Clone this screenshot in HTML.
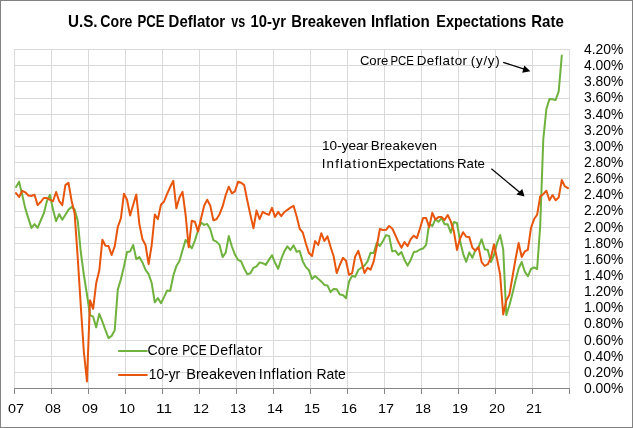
<!DOCTYPE html>
<html><head><meta charset="utf-8"><title>Chart</title>
<style>
html,body{margin:0;padding:0;background:#fff;}
body{width:633px;height:428px;overflow:hidden;font-family:"Liberation Sans",sans-serif;}
svg{display:block;will-change:transform;}
text{font-family:"Liberation Sans",sans-serif;fill:#000;}
</style></head><body>
<svg width="633" height="428" viewBox="0 0 633 428">
<rect x="0" y="0" width="633" height="428" fill="#fff"/>
<rect x="0.5" y="0.5" width="632" height="427" fill="none" stroke="#828282" stroke-width="1"/>
<g stroke="#D9D9D9" stroke-width="1" fill="none"><line x1="14.0" x2="570.0" y1="372.5" y2="372.5"/><line x1="14.0" x2="570.0" y1="356.5" y2="356.5"/><line x1="14.0" x2="570.0" y1="340.5" y2="340.5"/><line x1="14.0" x2="570.0" y1="324.5" y2="324.5"/><line x1="14.0" x2="570.0" y1="307.5" y2="307.5"/><line x1="14.0" x2="570.0" y1="291.5" y2="291.5"/><line x1="14.0" x2="570.0" y1="275.5" y2="275.5"/><line x1="14.0" x2="570.0" y1="259.5" y2="259.5"/><line x1="14.0" x2="570.0" y1="243.5" y2="243.5"/><line x1="14.0" x2="570.0" y1="227.5" y2="227.5"/><line x1="14.0" x2="570.0" y1="211.5" y2="211.5"/><line x1="14.0" x2="570.0" y1="194.5" y2="194.5"/><line x1="14.0" x2="570.0" y1="178.5" y2="178.5"/><line x1="14.0" x2="570.0" y1="162.5" y2="162.5"/><line x1="14.0" x2="570.0" y1="146.5" y2="146.5"/><line x1="14.0" x2="570.0" y1="130.5" y2="130.5"/><line x1="14.0" x2="570.0" y1="114.5" y2="114.5"/><line x1="14.0" x2="570.0" y1="98.5" y2="98.5"/><line x1="14.0" x2="570.0" y1="81.5" y2="81.5"/><line x1="14.0" x2="570.0" y1="65.5" y2="65.5"/><line x1="14.0" x2="570.0" y1="49.5" y2="49.5"/><line y1="49" y2="388.5" x1="14.50" x2="14.50"/><line y1="49" y2="388.5" x1="51.50" x2="51.50"/><line y1="49" y2="388.5" x1="88.50" x2="88.50"/><line y1="49" y2="388.5" x1="125.50" x2="125.50"/><line y1="49" y2="388.5" x1="162.50" x2="162.50"/><line y1="49" y2="388.5" x1="199.50" x2="199.50"/><line y1="49" y2="388.5" x1="236.50" x2="236.50"/><line y1="49" y2="388.5" x1="273.50" x2="273.50"/><line y1="49" y2="388.5" x1="310.50" x2="310.50"/><line y1="49" y2="388.5" x1="347.50" x2="347.50"/><line y1="49" y2="388.5" x1="384.50" x2="384.50"/><line y1="49" y2="388.5" x1="421.50" x2="421.50"/><line y1="49" y2="388.5" x1="458.50" x2="458.50"/><line y1="49" y2="388.5" x1="495.50" x2="495.50"/><line y1="49" y2="388.5" x1="532.50" x2="532.50"/><line y1="49" y2="388.5" x1="569.50" x2="569.50"/></g>
<g stroke="#868686" stroke-width="1" fill="none"><line x1="14.0" x2="570.0" y1="388.5" y2="388.5"/><line y1="388.0" y2="394.0" x1="14.50" x2="14.50"/><line y1="388.0" y2="394.0" x1="51.50" x2="51.50"/><line y1="388.0" y2="394.0" x1="88.50" x2="88.50"/><line y1="388.0" y2="394.0" x1="125.50" x2="125.50"/><line y1="388.0" y2="394.0" x1="162.50" x2="162.50"/><line y1="388.0" y2="394.0" x1="199.50" x2="199.50"/><line y1="388.0" y2="394.0" x1="236.50" x2="236.50"/><line y1="388.0" y2="394.0" x1="273.50" x2="273.50"/><line y1="388.0" y2="394.0" x1="310.50" x2="310.50"/><line y1="388.0" y2="394.0" x1="347.50" x2="347.50"/><line y1="388.0" y2="394.0" x1="384.50" x2="384.50"/><line y1="388.0" y2="394.0" x1="421.50" x2="421.50"/><line y1="388.0" y2="394.0" x1="458.50" x2="458.50"/><line y1="388.0" y2="394.0" x1="495.50" x2="495.50"/><line y1="388.0" y2="394.0" x1="532.50" x2="532.50"/><line y1="388.0" y2="394.0" x1="569.50" x2="569.50"/></g>
<text x="67.98" y="26.8" font-size="16.4" font-weight="bold" textLength="29.60" lengthAdjust="spacingAndGlyphs">U.S.</text><text x="100.34" y="26.8" font-size="16.4" font-weight="bold" textLength="32.14" lengthAdjust="spacingAndGlyphs">Core</text><text x="137.55" y="26.8" font-size="16.4" font-weight="bold" textLength="27.10" lengthAdjust="spacingAndGlyphs">PCE</text><text x="168.60" y="26.8" font-size="16.4" font-weight="bold" textLength="56.61" lengthAdjust="spacingAndGlyphs">Deflator</text><text x="231.36" y="26.8" font-size="16.4" font-weight="bold" textLength="13.97" lengthAdjust="spacingAndGlyphs">vs</text><text x="250.55" y="26.8" font-size="16.4" font-weight="bold" textLength="35.42" lengthAdjust="spacingAndGlyphs">10-yr</text><text x="291.23" y="26.8" font-size="16.4" font-weight="bold" textLength="75.01" lengthAdjust="spacingAndGlyphs">Breakeven</text><text x="370.89" y="26.8" font-size="16.4" font-weight="bold" textLength="58.93" lengthAdjust="spacingAndGlyphs">Inflation</text><text x="436.32" y="26.8" font-size="16.4" font-weight="bold" textLength="89.97" lengthAdjust="spacingAndGlyphs">Expectations</text><text x="531.15" y="26.8" font-size="16.4" font-weight="bold" textLength="32.62" lengthAdjust="spacingAndGlyphs">Rate</text>
<g font-size="14"><text x="584.0" y="392.60" textLength="39.4" lengthAdjust="spacingAndGlyphs">0.00%</text><text x="584.0" y="376.60" textLength="39.4" lengthAdjust="spacingAndGlyphs">0.20%</text><text x="584.0" y="360.60" textLength="39.4" lengthAdjust="spacingAndGlyphs">0.40%</text><text x="584.0" y="344.60" textLength="39.4" lengthAdjust="spacingAndGlyphs">0.60%</text><text x="584.0" y="327.60" textLength="39.4" lengthAdjust="spacingAndGlyphs">0.80%</text><text x="584.0" y="311.60" textLength="39.4" lengthAdjust="spacingAndGlyphs">1.00%</text><text x="584.0" y="295.60" textLength="39.4" lengthAdjust="spacingAndGlyphs">1.20%</text><text x="584.0" y="279.60" textLength="39.4" lengthAdjust="spacingAndGlyphs">1.40%</text><text x="584.0" y="263.60" textLength="39.4" lengthAdjust="spacingAndGlyphs">1.60%</text><text x="584.0" y="247.60" textLength="39.4" lengthAdjust="spacingAndGlyphs">1.80%</text><text x="584.0" y="231.60" textLength="39.4" lengthAdjust="spacingAndGlyphs">2.00%</text><text x="584.0" y="214.60" textLength="39.4" lengthAdjust="spacingAndGlyphs">2.20%</text><text x="584.0" y="198.60" textLength="39.4" lengthAdjust="spacingAndGlyphs">2.40%</text><text x="584.0" y="182.60" textLength="39.4" lengthAdjust="spacingAndGlyphs">2.60%</text><text x="584.0" y="166.60" textLength="39.4" lengthAdjust="spacingAndGlyphs">2.80%</text><text x="584.0" y="150.60" textLength="39.4" lengthAdjust="spacingAndGlyphs">3.00%</text><text x="584.0" y="134.60" textLength="39.4" lengthAdjust="spacingAndGlyphs">3.20%</text><text x="584.0" y="118.60" textLength="39.4" lengthAdjust="spacingAndGlyphs">3.40%</text><text x="584.0" y="101.60" textLength="39.4" lengthAdjust="spacingAndGlyphs">3.60%</text><text x="584.0" y="85.60" textLength="39.4" lengthAdjust="spacingAndGlyphs">3.80%</text><text x="584.0" y="69.60" textLength="39.4" lengthAdjust="spacingAndGlyphs">4.00%</text><text x="584.0" y="53.60" textLength="39.4" lengthAdjust="spacingAndGlyphs">4.20%</text></g>
<g font-size="13.6"><text x="16.00" y="413.4" text-anchor="middle" textLength="16.0" lengthAdjust="spacingAndGlyphs">07</text><text x="53.00" y="413.4" text-anchor="middle" textLength="16.0" lengthAdjust="spacingAndGlyphs">08</text><text x="90.00" y="413.4" text-anchor="middle" textLength="16.0" lengthAdjust="spacingAndGlyphs">09</text><text x="127.00" y="413.4" text-anchor="middle" textLength="16.0" lengthAdjust="spacingAndGlyphs">10</text><text x="164.00" y="413.4" text-anchor="middle" textLength="16.0" lengthAdjust="spacingAndGlyphs">11</text><text x="201.00" y="413.4" text-anchor="middle" textLength="16.0" lengthAdjust="spacingAndGlyphs">12</text><text x="238.00" y="413.4" text-anchor="middle" textLength="16.0" lengthAdjust="spacingAndGlyphs">13</text><text x="275.00" y="413.4" text-anchor="middle" textLength="16.0" lengthAdjust="spacingAndGlyphs">14</text><text x="312.00" y="413.4" text-anchor="middle" textLength="16.0" lengthAdjust="spacingAndGlyphs">15</text><text x="349.00" y="413.4" text-anchor="middle" textLength="16.0" lengthAdjust="spacingAndGlyphs">16</text><text x="386.00" y="413.4" text-anchor="middle" textLength="16.0" lengthAdjust="spacingAndGlyphs">17</text><text x="423.00" y="413.4" text-anchor="middle" textLength="16.0" lengthAdjust="spacingAndGlyphs">18</text><text x="460.00" y="413.4" text-anchor="middle" textLength="16.0" lengthAdjust="spacingAndGlyphs">19</text><text x="497.00" y="413.4" text-anchor="middle" textLength="16.0" lengthAdjust="spacingAndGlyphs">20</text><text x="534.00" y="413.4" text-anchor="middle" textLength="16.0" lengthAdjust="spacingAndGlyphs">21</text></g>
<polyline points="16.04,187.00 19.12,181.70 22.21,194.80 25.29,208.40 28.38,218.40 31.46,227.90 34.54,224.10 37.62,227.90 40.71,220.50 43.79,213.40 46.88,201.20 49.96,194.80 53.04,209.80 56.12,221.20 59.21,214.10 62.29,219.80 65.38,214.80 68.46,209.80 71.54,206.90 74.62,209.40 77.71,220.50 80.79,252.00 83.88,275.00 86.96,294.50 90.04,315.20 93.12,316.70 96.21,327.40 99.29,313.80 102.38,321.70 105.46,330.20 108.54,338.10 111.62,335.90 114.71,330.20 117.79,289.60 120.88,279.20 123.96,266.40 127.04,252.10 130.12,251.40 133.21,245.00 136.29,259.20 139.38,257.10 142.46,262.40 145.54,269.90 148.62,274.20 151.71,283.00 154.79,302.30 157.88,298.10 160.96,303.20 164.04,297.10 167.12,290.60 170.21,290.90 173.29,275.70 176.38,266.10 179.46,261.00 182.54,250.30 185.62,239.90 188.71,244.00 191.79,248.30 194.88,240.60 197.96,230.70 201.04,222.50 204.12,224.90 207.21,223.90 210.29,229.20 213.38,240.20 216.46,241.60 219.54,244.90 222.62,257.10 225.71,252.60 228.79,236.00 231.88,246.50 234.96,254.60 238.04,259.90 241.12,261.40 244.21,268.50 247.29,274.20 250.38,273.20 253.46,267.80 256.54,266.40 259.62,262.40 262.71,263.20 265.79,264.90 268.88,259.90 271.96,255.20 275.04,262.80 278.12,268.90 281.21,259.20 284.29,251.40 287.38,246.40 290.46,250.00 293.54,245.40 296.62,251.80 299.71,251.00 302.79,261.40 305.88,267.10 308.96,270.30 312.04,279.00 315.12,276.00 318.21,278.80 321.29,281.40 324.38,284.90 327.46,285.40 330.54,292.10 333.62,288.90 336.71,289.20 339.79,294.50 342.88,294.90 345.96,298.20 349.04,281.40 352.12,275.70 355.21,276.80 358.29,270.00 361.38,267.80 364.46,265.70 367.54,261.40 370.62,252.70 373.71,253.00 376.79,242.80 379.88,246.00 382.96,241.00 386.04,235.10 389.12,236.00 392.21,251.40 395.29,250.60 398.38,254.90 401.46,252.10 404.54,259.90 407.62,265.60 410.71,259.90 413.79,252.10 416.88,251.40 419.96,249.50 423.04,248.50 426.12,244.90 429.21,223.50 432.29,226.10 435.38,219.30 438.46,221.80 441.54,218.10 444.62,224.30 447.71,224.30 450.79,232.70 453.88,222.00 456.96,223.00 460.04,240.70 463.12,253.80 466.21,261.80 469.29,252.40 472.38,257.80 475.46,249.90 478.54,247.10 481.62,239.20 484.71,249.20 487.79,249.90 490.88,262.10 493.96,255.00 497.04,243.20 500.12,235.00 503.21,249.20 506.29,315.10 509.38,305.50 512.46,293.40 515.54,280.50 518.62,268.50 521.71,262.00 524.79,271.60 527.88,276.30 530.96,269.00 534.04,267.30 537.12,269.00 540.21,226.00 543.29,139.20 546.38,109.00 549.46,99.00 552.54,99.30 555.62,100.00 558.71,91.30 561.79,55.50" fill="none" stroke="#6FB23E" stroke-width="2" stroke-linejoin="round" stroke-linecap="round"/>
<polyline points="16.04,193.10 19.12,197.00 22.21,190.80 25.29,192.30 28.38,195.50 31.46,196.00 34.54,194.80 37.62,205.10 40.71,202.00 43.79,198.00 46.88,198.00 49.96,199.80 53.04,201.20 56.12,192.00 59.21,201.20 62.29,205.10 65.38,185.10 68.46,182.70 71.54,200.50 74.62,213.40 77.71,257.50 80.79,306.00 83.88,352.00 86.96,381.50 90.04,300.30 93.12,308.80 96.21,283.00 99.29,270.60 102.38,239.70 105.46,245.70 108.54,246.10 111.62,255.00 114.71,246.40 117.79,227.00 120.88,218.40 123.96,193.70 127.04,199.80 130.12,215.50 133.21,204.80 136.29,194.40 139.38,224.10 142.46,239.30 145.54,245.00 148.62,264.20 151.71,245.00 154.79,214.50 157.88,219.10 160.96,204.70 164.04,201.50 167.12,193.80 170.21,187.00 173.29,180.80 176.38,208.30 179.46,197.40 182.54,191.80 185.62,215.00 188.71,247.30 191.79,220.70 194.88,221.70 197.96,231.40 201.04,218.50 204.12,205.70 207.21,199.70 210.29,205.70 213.38,220.20 216.46,219.20 219.54,214.20 222.62,206.40 225.71,195.00 228.79,186.70 231.88,193.30 234.96,191.30 238.04,181.70 241.12,182.70 244.21,185.10 247.29,200.50 250.38,214.80 253.46,228.30 256.54,210.50 259.62,219.10 262.71,211.90 265.79,213.60 268.88,214.80 271.96,207.90 275.04,216.90 278.12,211.90 281.21,216.20 284.29,212.20 287.38,209.80 290.46,207.70 293.54,205.80 296.62,216.20 299.71,228.80 302.79,232.50 305.88,243.50 308.96,253.10 312.04,256.00 315.12,241.00 318.21,245.00 321.29,233.20 324.38,241.00 327.46,236.40 330.54,246.70 333.62,256.20 336.71,273.10 339.79,265.00 342.88,257.80 345.96,260.70 349.04,274.90 352.12,273.10 355.21,256.40 358.29,250.90 361.38,261.40 364.46,273.10 367.54,267.80 370.62,269.70 373.71,261.40 376.79,246.30 379.88,229.00 382.96,230.00 386.04,229.80 389.12,226.00 392.21,228.50 395.29,235.00 398.38,242.10 401.46,247.80 404.54,242.10 407.62,246.10 410.71,239.20 413.79,235.70 416.88,238.10 419.96,228.50 423.04,218.10 426.12,218.10 429.21,227.10 432.29,212.80 435.38,219.50 438.46,217.10 441.54,217.10 444.62,220.00 447.71,215.00 450.79,221.40 453.88,231.40 456.96,249.90 460.04,238.50 463.12,232.20 466.21,236.70 469.29,237.10 472.38,247.80 475.46,250.70 478.54,247.10 481.62,262.10 484.71,266.00 487.79,264.20 490.88,257.80 493.96,244.20 497.04,259.00 500.12,274.50 503.21,314.50 506.29,300.50 509.38,294.80 512.46,277.00 515.54,259.00 518.62,243.00 521.71,257.10 524.79,251.40 527.88,249.90 530.96,228.00 534.04,219.30 537.12,214.80 540.21,196.40 543.29,194.20 546.38,190.70 549.46,200.20 552.54,195.00 555.62,200.20 558.71,197.40 561.79,180.00 564.88,186.40 567.96,188.20" fill="none" stroke="#E7560C" stroke-width="2" stroke-linejoin="round" stroke-linecap="round"/>
<text x="359.90" y="65.0" font-size="13.4" font-weight="normal" textLength="28.45" lengthAdjust="spacingAndGlyphs">Core</text><text x="390.43" y="65.0" font-size="13.4" font-weight="normal" textLength="23.50" lengthAdjust="spacingAndGlyphs">PCE</text><text x="416.64" y="65.0" font-size="13.4" font-weight="normal" textLength="50.43" lengthAdjust="spacing">Deflator</text><text x="470.78" y="65.0" font-size="13.4" font-weight="normal" textLength="28.96" lengthAdjust="spacing">(y/y)</text><text x="322.00" y="150.0" font-size="13.4" font-weight="normal" textLength="46.13" lengthAdjust="spacingAndGlyphs">10-year</text><text x="370.87" y="150.0" font-size="13.4" font-weight="normal" textLength="66.00" lengthAdjust="spacing">Breakeven</text><text x="321.79" y="167.8" font-size="13.4" font-weight="normal" textLength="55.68" lengthAdjust="spacing">Inflation</text><text x="378.07" y="167.8" font-size="13.4" font-weight="normal" textLength="76.44" lengthAdjust="spacingAndGlyphs">Expectations</text><text x="456.99" y="167.8" font-size="13.4" font-weight="normal" textLength="27.95" lengthAdjust="spacingAndGlyphs">Rate</text><text x="147.61" y="355.2" font-size="14.2" font-weight="normal" textLength="30.65" lengthAdjust="spacingAndGlyphs">Core</text><text x="182.18" y="355.2" font-size="14.2" font-weight="normal" textLength="24.36" lengthAdjust="spacingAndGlyphs">PCE</text><text x="209.45" y="355.2" font-size="14.2" font-weight="normal" textLength="53.02" lengthAdjust="spacing">Deflator</text><text x="148.86" y="378.8" font-size="14.2" font-weight="normal" textLength="31.24" lengthAdjust="spacingAndGlyphs">10-yr</text><text x="186.26" y="378.8" font-size="14.2" font-weight="normal" textLength="69.80" lengthAdjust="spacingAndGlyphs">Breakeven</text><text x="258.75" y="378.8" font-size="14.2" font-weight="normal" textLength="53.37" lengthAdjust="spacing">Inflation</text><text x="316.43" y="378.8" font-size="14.2" font-weight="normal" textLength="29.40" lengthAdjust="spacingAndGlyphs">Rate</text>
<line x1="119" x2="146.8" y1="351" y2="351" stroke="#6FB23E" stroke-width="2.1" stroke-linecap="round"/>
<line x1="119" x2="146.8" y1="375" y2="375" stroke="#E7560C" stroke-width="2.1" stroke-linecap="round"/>
<g stroke="#000" stroke-width="1.25" fill="#000">
<line x1="503.2" y1="62.3" x2="525" y2="69.4"/>
<polygon points="530.4,71.2 524.3,65.5 522.2,72.8" stroke="none"/>
<line x1="491.4" y1="168.7" x2="520" y2="192.6"/>
<polygon points="524.5,196.4 522.3,189 516.3,194.5" stroke="none"/>
</g>
</svg>
</body></html>
